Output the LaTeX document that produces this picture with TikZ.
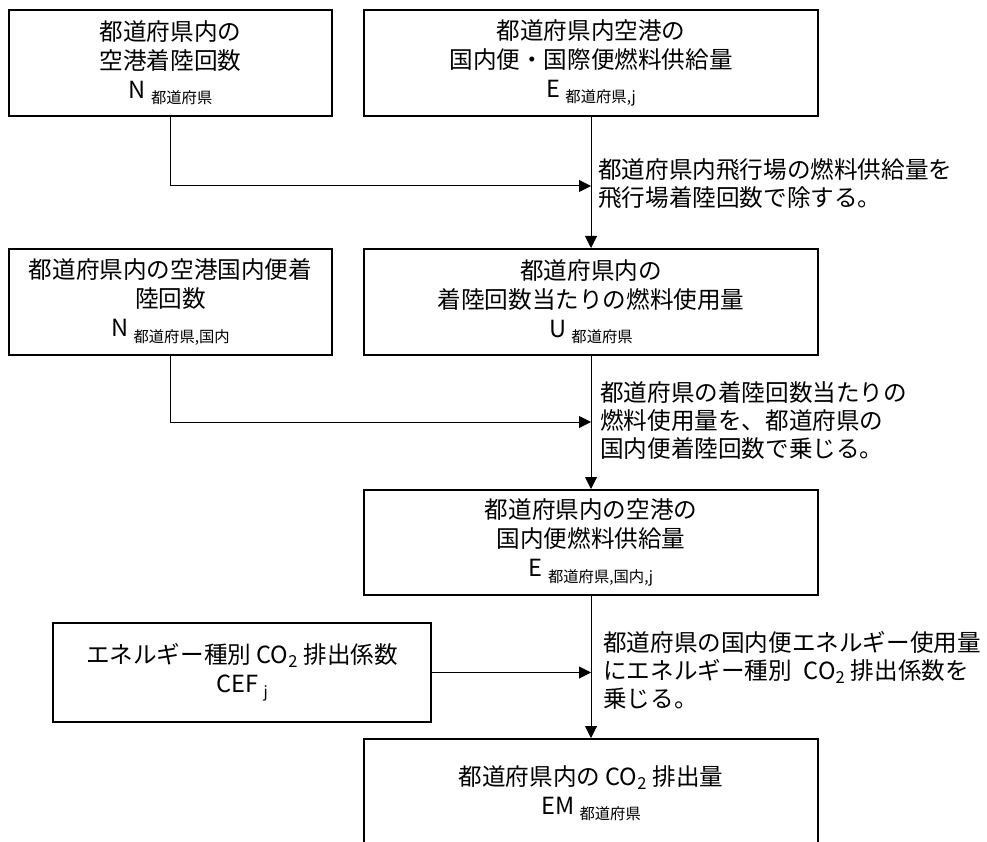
\documentclass[tikz,border=0pt]{standalone}
\usepackage{fontspec}
\setmainfont{Noto Sans CJK JP}
\usetikzlibrary{arrows.meta}
\newcommand{\jsub}[1]{\raisebox{-0.4ex}{\fontsize{11.5pt}{12pt}\selectfont #1}}
\begin{document}
\begin{tikzpicture}[x=0.75pt,y=-0.75pt,
  box/.style={draw, line width=1.5pt, rectangle, align=center, inner sep=0pt,
    font=\fontsize{17.7pt}{21.75pt}\selectfont},
  lbl/.style={align=left, anchor=west, inner sep=0pt,
    font=\fontsize{17.7pt}{21pt}\selectfont},
  conn/.style={line width=0.75pt},
  arr/.style={conn, -{Triangle[length=9pt,width=9pt]}}]
\useasboundingbox (0,0) rectangle (987,841);
\node[box, minimum width=242.25pt, minimum height=79.5pt] (b1) at (170.5,63)
  {都道府県内の\\空港着陸回数\\N \jsub{都道府県}};
\node[box, minimum width=340.5pt, minimum height=79.5pt] (b2) at (591,63)
  {都道府県内空港の\\国内便・国際便燃料供給量\\E \jsub{都道府県,j}};
\node[box, minimum width=242.25pt, minimum height=79.5pt] (b3) at (170.5,302)
  {都道府県内の空港国内便着\\陸回数\\N \jsub{都道府県,国内}};
\node[box, minimum width=340.5pt, minimum height=79.5pt] (b4) at (591,302)
  {都道府県内の\\着陸回数当たりの燃料使用量\\U \jsub{都道府県}};
\node[box, minimum width=340.5pt, minimum height=78.75pt] (b5) at (591,542.5)
  {都道府県内の空港の\\国内便燃料供給量\\E \jsub{都道府県,国内,j}};
\node[box, minimum width=283.5pt, minimum height=74.25pt] (b6) at (242,672.5)
  {エネルギー種別 CO\textsubscript{2} 排出係数\\CEF \jsub{j}};
\node[box, minimum width=340.5pt, minimum height=81pt] (b7) at (591,793)
  {都道府県内の CO\textsubscript{2} 排出量\\EM \jsub{都道府県}};
\node[lbl] (l1) at (598,184) {都道府県内飛行場の燃料供給量を\\飛行場着陸回数で除する。};
\node[lbl] (l2) at (600,421) {都道府県の着陸回数当たりの\\燃料使用量を、都道府県の\\国内便着陸回数で乗じる。};
\node[lbl] (l3) at (603,670) {都道府県の国内便エネルギー使用量\\にエネルギー種別\hspace{0.5em}CO\textsubscript{2} 排出係数を\\乗じる。};
\coordinate (j1) at (591,186);
\coordinate (j2) at (591,422);
\draw[arr] (b2.south) -- (b4.north);
\draw[arr] (b1.south) |- (j1);
\draw[arr] (b4.south) -- (b5.north);
\draw[arr] (b3.south) |- (j2);
\draw[arr] (b5.south) -- (b7.north);
\draw[arr] (b6.east) -- (b6.east -| b5.south);
\end{tikzpicture}
\end{document}
